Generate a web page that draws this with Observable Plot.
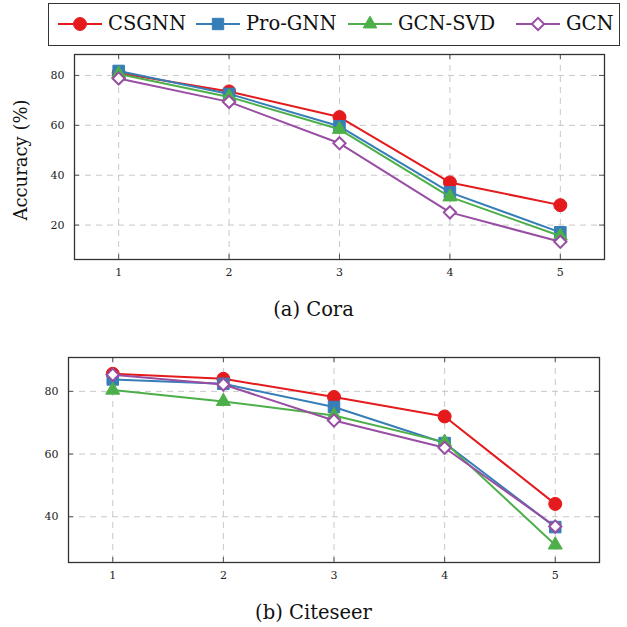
<!DOCTYPE html>
<html>
<head>
<meta charset="utf-8">
<script src="https://cdn.jsdelivr.net/npm/d3@7"></script>
<script src="https://cdn.jsdelivr.net/npm/@observablehq/plot@0.6"></script>
<style>
  html, body { margin: 0; padding: 0; background: #fff; }
  body { width: 627px; height: 627px; position: relative; overflow: hidden; font-family: "DejaVu Serif", serif; }
  .abs { position: absolute; }
  .caption { position: absolute; width: 627px; text-align: center; font-size: 19.5px; color: #111; }
  #legend { position: absolute; left: 48px; top: 3px; width: 572px; height: 43px; border: 1.5px solid #333; box-sizing: border-box; font-size: 19.5px; color: #111; }
  .item { display: flex; align-items: center; position: absolute; top: 8px; }
  .item svg { margin-right: 5px; }
</style>
</head>
<body>
<div id="legend"></div>
<div id="top" class="abs" style="left:0;top:50px"></div>
<div class="abs" style="left:20px;top:160px;transform:translate(-50%,-50%) rotate(-90deg);font-size:18px;white-space:nowrap;color:#111">Accuracy (%)</div>
<div class="caption" style="top:298px">(a) Cora</div>
<div id="bottom" class="abs" style="left:0;top:340px"></div>
<div class="caption" style="top:601px">(b) Citeseer</div>
<script>
// ---- data ----
const xValues = [1, 2, 3, 4, 5];
const seriesNames = ["CSGNN", "Pro-GNN", "GCN-SVD", "GCN"];
const seriesColors = ["#e41a1c", "#377eb8", "#4daf4a", "#984ea3"];
const seriesSymbols = ["circle", "square", "triangle", "diamond2"];
const seriesFills = ["#e41a1c", "#377eb8", "#4daf4a", "#ffffff"];

const coraCSGNN  = [81.0, 73.6, 63.3, 37.1, 28.0];
const coraProGNN = [81.8, 72.6, 59.6, 33.1, 17.1];
const coraGCNSVD = [80.6, 71.4, 58.4, 31.3, 15.6];
const coraGCN    = [78.8, 69.4, 52.8, 25.1, 13.3];

const citeCSGNN  = [85.6, 84.0, 78.2, 72.0, 44.1];
const citeProGNN = [83.8, 82.4, 75.0, 63.5, 36.7];
const citeGCNSVD = [80.4, 76.8, 72.3, 63.8, 31.0];
const citeGCN    = [85.3, 82.2, 70.7, 62.0, 36.9];

const coraYTicks = [20, 40, 60, 80];
const citeYTicks = [40, 60, 80];

function toRows(seriesValues) {
  const rows = [];
  seriesValues.forEach((vals, si) => {
    vals.forEach((v, i) => rows.push({x: xValues[i], y: v, s: seriesNames[si]}));
  });
  return rows;
}

const dotR = [6.5, 6.5, 5.2, 5.5];

function makeChart({rows, yDomain, yTicks, height, mt, mb, ml, mr}) {
  const ph = height - mt - mb;
  const pw = 627 - ml - mr;
  const tickLen = 5;
  const marks = [
    Plot.gridX(xValues, {stroke: "#c8c8c8", strokeOpacity: 1, strokeDasharray: "6,5"}),
    Plot.gridY(yTicks, {stroke: "#c8c8c8", strokeOpacity: 1, strokeDasharray: "6,5"}),
    Plot.tickX(xValues, {x: d => d, insetTop: ph - tickLen, stroke: "#555"}),
    Plot.tickX(xValues, {x: d => d, insetBottom: ph - tickLen, stroke: "#555"}),
    Plot.tickY(yTicks, {y: d => d, insetRight: pw - tickLen, stroke: "#555"}),
    Plot.tickY(yTicks, {y: d => d, insetLeft: pw - tickLen, stroke: "#555"}),
    Plot.axisX(xValues, {tickSize: 0, tickPadding: 9, fontSize: 11, fill: "#222"}),
    Plot.axisY(yTicks, {tickSize: 0, tickPadding: 10, fontSize: 11, fill: "#222"}),
    Plot.frame({stroke: "#333", strokeWidth: 1.3})
  ];
  seriesNames.forEach((name, si) => {
    const d = rows.filter(r => r.s === name);
    marks.push(Plot.line(d, {x: "x", y: "y", stroke: seriesColors[si], strokeWidth: 2}));
    marks.push(Plot.dot(d, {x: "x", y: "y", symbol: () => seriesSymbols[si], r: dotR[si],
      fill: seriesFills[si], stroke: seriesColors[si], strokeWidth: si === 3 ? 2 : 1}));
  });
  return Plot.plot({
    width: 627, height,
    marginTop: mt, marginBottom: mb, marginLeft: ml, marginRight: mr,
    style: {fontFamily: "'DejaVu Serif', serif", background: "transparent"},
    x: {domain: [0.6, 5.4], label: null},
    y: {domain: yDomain, label: null},
    symbol: {type: "identity"},
    marks
  });
}

document.getElementById("top").append(makeChart({
  rows: toRows([coraCSGNN, coraProGNN, coraGCNSVD, coraGCN]),
  yDomain: [6.2, 88.4], yTicks: coraYTicks,
  height: 240, mt: 4, mb: 31, ml: 74, mr: 23
}));
document.getElementById("bottom").append(makeChart({
  rows: toRows([citeCSGNN, citeProGNN, citeGCNSVD, citeGCN]),
  yDomain: [25.4, 90.8], yTicks: citeYTicks,
  height: 250, mt: 17, mb: 28, ml: 68, mr: 28
}));

// ---- legend ----
const legend = document.getElementById("legend");
const itemLeft = [8, 146, 298, 466];
const legSize = [130, 130, 80, 95];
seriesNames.forEach((name, si) => {
  const item = document.createElement("div");
  item.className = "item";
  item.style.left = itemLeft[si] + "px";
  const sym = d3.symbol().type([d3.symbolCircle, d3.symbolSquare, d3.symbolTriangle, d3.symbolDiamond2][si]).size(legSize[si])();
  item.innerHTML = `<svg width="46" height="20"><line x1="1" x2="45" y1="10" y2="10" stroke="${seriesColors[si]}" stroke-width="2"/>` +
    `<path d="${sym}" transform="translate(23,10)" fill="${seriesFills[si]}" stroke="${seriesColors[si]}" stroke-width="${si === 3 ? 2 : 1}"/></svg>` +
    `<span>${name}</span>`;
  legend.append(item);
});
</script>
</body>
</html>
